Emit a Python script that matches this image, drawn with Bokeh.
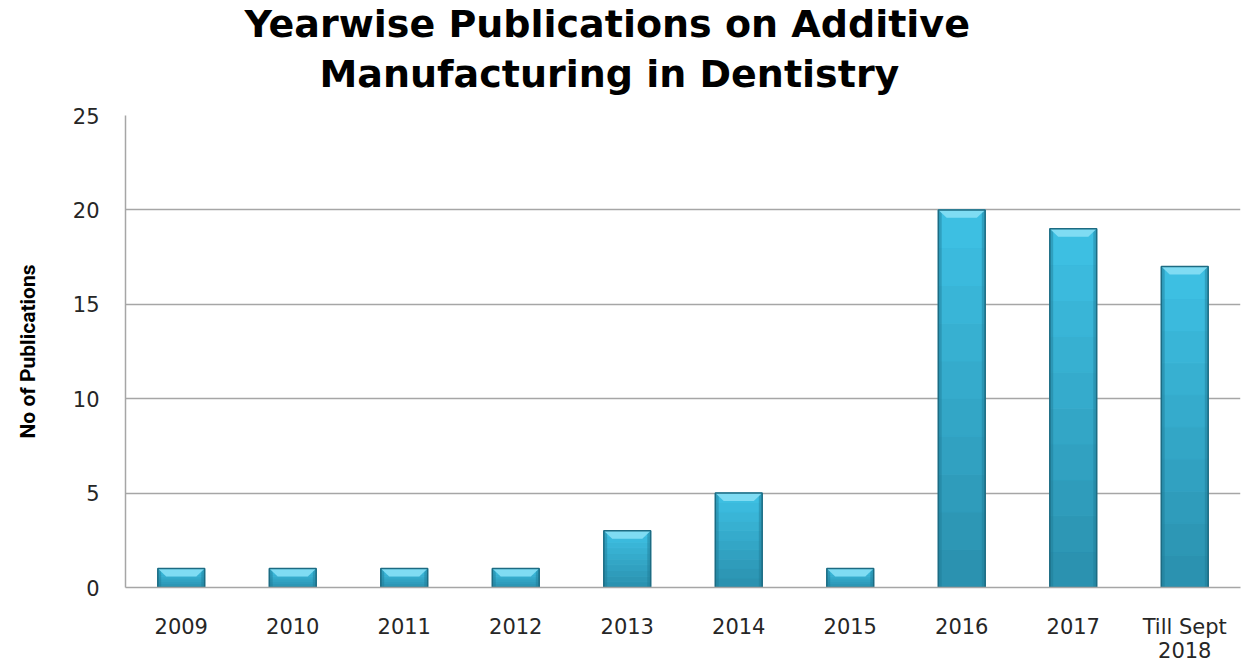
from bokeh.plotting import figure
from bokeh.models import FixedTicker, Range1d, Title
from bokeh.embed import file_html
from bokeh.resources import INLINE

categories = ["2009", "2010", "2011", "2012", "2013", "2014", "2015", "2016", "2017", "Till Sept\n2018"]
publications = [1, 1, 1, 1, 3, 5, 1, 20, 19, 17]
y_ticks = [0, 5, 10, 15, 20, 25]
title_lines = ["Yearwise Publications on Additive", "Manufacturing in Dentistry"]
y_label = "No of Publications"

p = figure(width=1258, height=665, output_backend="svg", toolbar_location=None,
           x_range=Range1d(0, len(categories)), y_range=Range1d(0, 25),
           min_border_left=125, min_border_right=18, min_border_top=115, min_border_bottom=77)
p.outline_line_color = None
p.background_fill_color = "white"

xs = [i + 0.5 for i in range(len(categories))]
half = 0.21
n_slices = 10
top_col = (0x3e, 0xc2, 0xe5)
bot_col = (0x2a, 0x8f, 0xad)

# gradient body
for k in range(n_slices):
    f0 = k / n_slices
    f1 = (k + 1) / n_slices
    t = (k + 0.5) / n_slices
    c = tuple(int(round(bot_col[j] + (top_col[j] - bot_col[j]) * t)) for j in range(3))
    col = "#%02x%02x%02x" % c
    p.vbar(x=xs, width=2 * half, bottom=[v * f0 for v in publications],
           top=[v * f1 for v in publications], fill_color=col, line_color=col, line_width=1)

# darker side bevels
side = 0.03
p.vbar(x=[x - half + side / 2 for x in xs], width=side, top=publications, bottom=0,
       fill_color="#1f7a94", fill_alpha=0.45, line_color=None)
p.vbar(x=[x + half - side / 2 for x in xs], width=side, top=publications, bottom=0,
       fill_color="#1f7a94", fill_alpha=0.45, line_color=None)

# top bevel (trapezoid)
bev_h = 0.42
inset = 0.075
bx, by = [], []
for x, v in zip(xs, publications):
    bx.append([x - half, x + half, x + half - inset, x - half + inset])
    by.append([v, v, v - bev_h, v - bev_h])
p.patches(bx, by, fill_color="#7fdcf3", line_color=None)

# outline
p.vbar(x=xs, width=2 * half, top=publications, bottom=0, fill_color=None,
       line_color="#1d6b82", line_width=1.5)

p.xaxis.ticker = FixedTicker(ticks=xs)
p.xaxis.major_label_overrides = {x: c for x, c in zip(xs, categories)}
p.yaxis.ticker = FixedTicker(ticks=y_ticks)

for ax in (p.xaxis[0], p.yaxis[0]):
    ax.major_tick_out = 0
    ax.major_tick_in = 0
    ax.minor_tick_out = 0
    ax.minor_tick_in = 0
    ax.axis_line_color = "#a6a6a6"
    ax.axis_line_width = 1.5
    ax.major_label_text_font = "DejaVu Sans"
    ax.major_label_text_font_size = "21px"
    ax.major_label_text_color = "#262626"

p.xaxis.major_label_standoff = 27
p.xaxis.major_label_text_line_height = 1.0
p.yaxis.major_label_standoff = 26
p.yaxis.axis_label = y_label
p.yaxis.axis_label_text_font = "Roboto"
p.yaxis.axis_label_text_font_style = "bold"
p.yaxis.axis_label_text_font_size = "21px"
p.yaxis.axis_label_text_color = "#000000"
p.yaxis.axis_label_standoff = 30

p.xgrid.grid_line_color = None
p.ygrid.grid_line_color = "#a6a6a6"
p.ygrid.grid_line_width = 1.5

# title: second line added first (closest to the plot), first line outermost
p.add_layout(Title(text=title_lines[1], align="left", offset=194, standoff=40,
                   text_font="DejaVu Sans", text_font_style="bold",
                   text_font_size="38px", text_color="#000000"), "above")
p.add_layout(Title(text=title_lines[0], align="left", offset=119, standoff=-32,
                   text_font="DejaVu Sans", text_font_style="bold",
                   text_font_size="38px", text_color="#000000"), "above")

open("out.html", "w").write(file_html(p, INLINE))
